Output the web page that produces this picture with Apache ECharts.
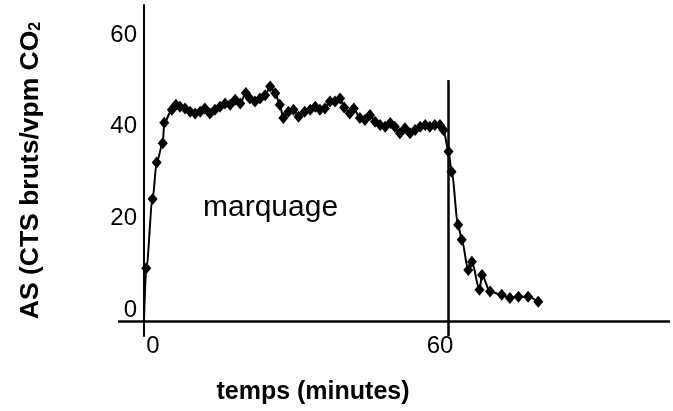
<!DOCTYPE html>
<html>
<head>
<meta charset="utf-8">
<script src="https://cdn.jsdelivr.net/npm/echarts@6/dist/echarts.min.js"></script>
<style>
  html, body { margin: 0; padding: 0; background: #fff; }
  #chart { width: 673px; height: 411px; }
</style>
</head>
<body>
<div id="chart"></div>
<script>
// Data
const minutes = [0, 0.45, 1.7, 2.5, 3.7, 4.0, 5.5, 6.3, 7.1, 8.1, 9.1, 10.1, 11.1, 12.0, 13.0, 14.0,
  15.0, 16.0, 17.0, 18.0, 19.0, 20.1, 20.9, 21.9, 22.9, 23.9, 24.9, 25.9, 26.8, 27.5, 28.5,
  29.5, 30.5, 31.7, 32.8, 33.8, 34.7, 35.7, 36.7, 37.7, 38.7, 39.5, 40.6, 41.4, 42.6, 43.6,
  44.6, 45.6, 46.6, 47.6, 48.6, 49.5, 50.5, 51.5, 52.5, 53.5, 54.5, 55.5, 56.4, 57.4, 58.4,
  59.1, 60.1, 60.7, 62.0, 62.7, 64.0, 64.7, 66.2, 66.7, 68.3, 70.6, 72.2, 73.9, 75.8, 77.8];
const activity = [-2, 9.1, 24.2, 32.2, 36.4, 40.9, 43.7, 44.8, 44.4, 44.0, 43.3, 42.9, 43.3, 44.0, 42.9, 43.7,
  44.4, 45.1, 44.8, 45.9, 45.1, 47.4, 46.2, 45.5, 46.2, 46.9, 48.8, 47.3, 44.8, 41.9, 43.3,
  43.7, 42.2, 43.3, 43.7, 44.4, 43.7, 44.0, 45.5, 45.5, 46.2, 44.2, 42.9, 44.0, 41.9, 41.5,
  42.6, 41.1, 40.4, 40.0, 40.8, 40.0, 38.6, 39.7, 38.6, 39.3, 40.0, 40.4, 40.0, 40.4, 40.4,
  39.3, 34.6, 30.2, 18.6, 15.3, 8.7, 10.5, 4.4, 7.6, 4.0, 3.3, 2.6, 2.9, 2.9, 1.8];
const yTicks = [0, 20, 40, 60];
const xTicks = [0, 60];
const markerTime = 60;
const annotation = 'marquage';
const xTitle = 'temps (minutes)';

const seriesData = minutes.map((t, i) => {
  const item = { value: [t, activity[i]] };
  if (i === 0) item.symbol = 'none';
  return item;
});

const chart = echarts.init(document.getElementById('chart'), null, { renderer: 'canvas' });
const FONT = '"Liberation Sans", Arial, sans-serif';

chart.setOption({
  animation: false,
  backgroundColor: '#ffffff',
  grid: { left: 118, right: 3, top: 5, bottom: 75, containLabel: false, outerBoundsMode: 'none' },
  xAxis: {
    type: 'value',
    min: -5.13, max: 103.8,
    splitLine: { show: false },
    axisLine: { show: false, onZero: false },
    axisTick: { show: false },
    axisLabel: {
      customValues: xTicks,
      margin: -2,
      color: '#000',
      fontFamily: FONT,
      fontSize: 24,
      formatter: v => v === 0 ? '{l|0}' : '{r|' + v + '}',
      rich: {
        l: { padding: [0, 0, 0, 18], fontSize: 24, fontFamily: FONT, color: '#000' },
        r: { padding: [0, 16, 0, 0], fontSize: 24, fontFamily: FONT, color: '#000' }
      }
    }
  },
  yAxis: {
    type: 'value',
    min: -5.7, max: 66.6,
    splitLine: { show: false },
    axisLine: { show: true, onZero: true, lineStyle: { color: '#000', width: 2 } },
    axisTick: { show: false },
    axisLabel: {
      customValues: yTicks,
      margin: -19,
      color: '#000',
      fontFamily: FONT,
      fontSize: 24
    },
    name: '{m|AS (CTS bruts/vpm CO}{s|2}',
    nameLocation: 'middle',
    nameRotate: 90,
    nameGap: 72,
    nameTextStyle: {
      rich: {
        m: { fontSize: 26.5, fontWeight: 'bold', fontFamily: FONT, color: '#000', lineHeight: 30 },
        s: { fontSize: 16, fontWeight: 'bold', fontFamily: FONT, color: '#000', padding: [10, 0, 0, 0], lineHeight: 30 }
      }
    }
  },
  series: [
    {
      type: 'line',
      data: seriesData,
      smooth: 0.3,
      smoothMonotone: 'x',
      symbol: 'diamond',
      symbolSize: [10, 12],
      showSymbol: true,
      itemStyle: { color: '#000' },
      lineStyle: { color: '#000', width: 2 },
      z: 5
    },
    {
      type: 'line',
      data: [],
      silent: true,
      markLine: {
        silent: true,
        symbol: 'none',
        label: { show: false },
        lineStyle: { color: '#000', width: 2.5, type: 'solid' },
        data: [
          [{ coord: [-5.13, -2.4] }, { coord: [103.8, -2.4] }],
          [{ coord: [markerTime, -5.7] }, { coord: [markerTime, 50.2] }]
        ]
      }
    }
  ],
  graphic: [
    {
      type: 'text',
      x: 203, y: 208,
      style: { text: annotation, font: '30px ' + FONT, fill: '#000', verticalAlign: 'middle' }
    },
    {
      type: 'text',
      x: 313, y: 392,
      style: { text: xTitle, font: 'bold 25px ' + FONT, fill: '#000', align: 'center', verticalAlign: 'middle' }
    }
  ]
});
</script>
</body>
</html>
